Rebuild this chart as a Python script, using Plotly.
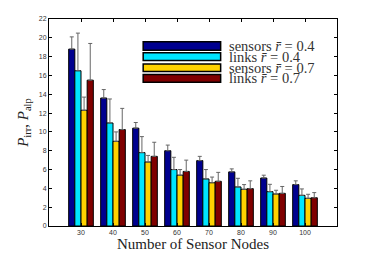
import plotly.graph_objects as go

nodes = [30, 40, 50, 60, 70, 80, 90, 100]
series_names = ["sensors <i>r̄</i> = 0.4", "links <i>r̄</i> = 0.4",
                "sensors <i>r̄</i> = 0.7", "links <i>r̄</i> = 0.7"]
sensors_04 = [18.8, 13.6, 10.4, 8.0, 6.95, 5.75, 5.1, 4.4]
links_04 = [16.5, 10.95, 7.8, 6.0, 5.0, 4.15, 3.65, 3.26]
sensors_07 = [12.3, 9.0, 6.8, 5.4, 4.6, 3.9, 3.4, 2.94]
links_07 = [15.5, 10.25, 7.4, 5.8, 4.75, 3.97, 3.47, 3.0]
sensors_04_top = [20.1, 14.5, 11.0, 8.6, 7.4, 6.07, 5.4, 4.8]
links_04_top = [20.5, 13.5, 9.5, 7.3, 6.0, 5.07, 4.43, 3.94]
sensors_07_top = [13.7, 10.0, 7.5, 6.0, 5.2, 4.4, 3.8, 3.37]
links_07_top = [19.4, 12.5, 8.9, 7.0, 5.7, 4.8, 4.2, 3.55]
y_ticks = list(range(0, 23, 2))

colors = ["#00008F", "#00E5FF", "#FFD200", "#800000"]
vals = [sensors_04, links_04, sensors_07, links_07]
tops = [sensors_04_top, links_04_top, sensors_07_top, links_07_top]

fig = go.Figure()
for name, v, t, c in zip(series_names, vals, tops, colors):
    fig.add_trace(go.Bar(
        x=nodes, y=v, name=name, marker=dict(color=c, line=dict(color="black", width=1)),
        error_y=dict(type="data", symmetric=False, array=[a - b for a, b in zip(t, v)],
                     arrayminus=[0] * len(v), color="#666666", thickness=1, width=2),
        showlegend=False))

axis_common = dict(showline=True, linecolor="black", linewidth=1, mirror="ticks",
                   ticks="inside", ticklen=3, tickcolor="black", automargin=False,
                   tickfont=dict(family="Liberation Sans", size=7, color="#333"),
                   showgrid=False, zeroline=False)
fig.update_xaxes(range=[20, 110], tickvals=nodes, **axis_common,
                 title=dict(text="Number of Sensor Nodes", standoff=0,
                            font=dict(family="Liberation Serif", size=15, color="#222")))
fig.update_yaxes(range=[0, 22], tickvals=y_ticks, **axis_common,
                 title=dict(text="<i>P</i><sub>irr</sub>, <i>P</i><sub>alp</sub>", standoff=6,
                            font=dict(family="Liberation Serif", size=15, color="#222")))

# legend drawn manually (wide swatches)
box_rows = [(0.849, 0.890), (0.799, 0.837), (0.746, 0.783), (0.694, 0.732)]
for (y0, y1), c, name in zip(box_rows, colors, series_names):
    fig.add_shape(type="rect", xref="paper", yref="paper", x0=0.327, x1=0.596, y0=y0, y1=y1,
                  fillcolor=c, line=dict(color="black", width=1.5))
    fig.add_annotation(xref="paper", yref="paper", x=0.618, y=(y0 + y1) / 2, text=name,
                       showarrow=False, xanchor="left", yanchor="middle",
                       font=dict(family="Liberation Serif", size=14.5, color="#333"))

fig.update_layout(width=366, height=247, barmode="group", bargap=0.23, bargroupgap=0,
                  margin=dict(l=41, r=37, t=11, b=29),
                  plot_bgcolor="white", paper_bgcolor="white")
fig.write_html("out.html")
